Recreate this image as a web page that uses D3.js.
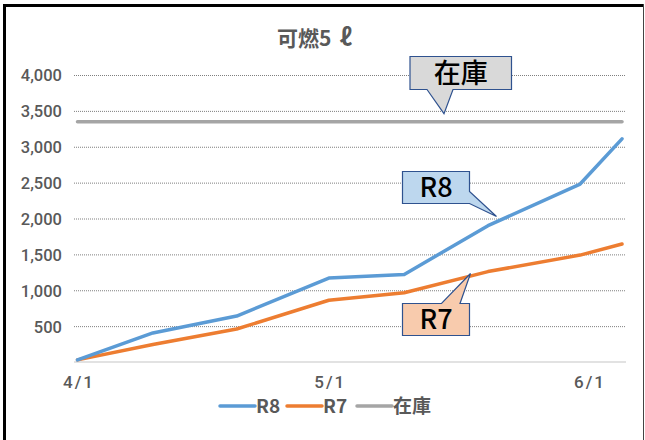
<!DOCTYPE html>
<html>
<head>
<meta charset="utf-8">
<script src="https://cdn.jsdelivr.net/npm/d3@7"></script>
<style>
  body { margin: 0; background: #fff; }
  svg { display: block; }
</style>
</head>
<body>
<script>
// Data (amounts per date)
var dates = ["2026-04-01", "2026-04-10", "2026-04-20", "2026-05-01",
             "2026-05-10", "2026-05-20", "2026-05-31", "2026-06-05"];
var r8 = [30, 405, 640, 1170, 1220, 1900, 2480, 3110];
var r7 = [30, 245, 460, 860, 965, 1260, 1490, 1645];
var stock = [3350, 3350, 3350, 3350, 3350, 3350, 3350, 3350];
var seriesNames = ["R8", "R7", "在庫"];
var yTicks = [500, 1000, 1500, 2000, 2500, 3000, 3500, 4000];
var xTicks = ["2026-04-01", "2026-05-01", "2026-06-01"];

var w = 645;
var h = 440;
//plot area edges (note: "top" is taken by window.top)
var plotLeft = 74, plotRight = 626, plotTop = 75, plotBottom = 362;
var colors = ["#5b9bd5", "#ed7d31", "#a5a5a5"];
var textGray = "#595959";

var parse = d3.timeParse("%Y-%m-%d");

//Svg is created with correct dimensions
var svg = d3.select("body")
  .append("svg")
  .attr("width", w)
  .attr("height", h);

//Frame around the chart, thick on left and top
svg.append("path")
  .attr("d", "M4.5,450 V5.5 H643")
  .attr("fill", "none")
  .attr("stroke", "#000")
  .attr("stroke-width", 3);
svg.append("line")
  .attr("x1", 643.5).attr("x2", 643.5)
  .attr("y1", 4).attr("y2", 450)
  .attr("stroke", "#444")
  .attr("stroke-width", 1);

//Scales, time for x and linear for y
var scaleX = d3.scaleTime()
  .domain([parse("2026-04-01"), parse("2026-06-01")])
  .range([77.5, 588.5]);

var scaleY = d3.scaleLinear()
  .domain([0, 4000])
  .range([plotBottom, plotTop]);

//Dotted gridlines with the y labels
var yAxis = svg.append("g")
  .attr("transform", "translate(" + plotLeft + ",0)")
  .call(d3.axisLeft(scaleY)
    .tickValues(yTicks)
    .tickFormat(d3.format(","))
    .tickSize(-(plotRight - plotLeft))
    .tickPadding(12));
yAxis.select(".domain").remove();
yAxis.selectAll("line")
  .attr("stroke", "#7f7f7f")
  .attr("stroke-dasharray", "1,1");
yAxis.selectAll("text")
  .attr("fill", textGray)
  .attr("dy", "0.36em")
  .style("font-family", "Roboto, 'Noto Sans', sans-serif")
  .style("font-weight", "500")
  .style("font-size", "16.5px");

//Baseline of the chart
svg.append("line")
  .attr("x1", plotLeft).attr("x2", plotRight)
  .attr("y1", scaleY(0)).attr("y2", scaleY(0))
  .attr("stroke", "#d9d9d9")
  .attr("stroke-width", 1.5);

//X axis with only labels
var xAxis = svg.append("g")
  .attr("transform", "translate(0," + plotBottom + ")")
  .call(d3.axisBottom(scaleX)
    .tickValues(xTicks.map(parse))
    .tickFormat(d3.timeFormat("%-m/%-d"))
    .tickSize(0)
    .tickPadding(14));
xAxis.select(".domain").remove();
xAxis.selectAll("text")
  .attr("fill", textGray)
  .attr("dx", 1)
  .style("font-family", "Roboto, 'Noto Sans', sans-serif")
  .style("font-weight", "500")
  .style("font-size", "17px")
  .style("letter-spacing", "2px");

//Lines for each series
var allSeries = [stock, r7, r8];
var allColors = [colors[2], colors[1], colors[0]];
var line = d3.line()
  .x(function(d, i) { return scaleX(parse(dates[i])); })
  .y(function(d) { return scaleY(d); });

svg.selectAll(".series")
  .data(allSeries)
  .enter()
  .append("path")
  .attr("class", "series")
  .attr("d", line)
  .attr("fill", "none")
  .attr("stroke", function(d, i) { return allColors[i]; })
  .attr("stroke-width", 3.5)
  .attr("stroke-linejoin", "round")
  .attr("stroke-linecap", "round");

//Title, the litre sign is set a bit apart and larger
var title = svg.append("text")
  .attr("x", 277)
  .attr("y", 46)
  .attr("fill", textGray)
  .style("font-family", "'Noto Sans CJK JP', sans-serif")
  .style("font-weight", "bold")
  .style("font-size", "21px");
title.append("tspan").text("可燃5");
title.append("tspan")
  .text("ℓ")
  .attr("dx", 8)
  .style("font-size", "24px");

//Callout boxes, pointer tip placed on a line
function callout(label, fill, box, pts) {
  svg.append("path")
    .attr("d", "M" + pts.map(function(p) { return p.join(","); }).join("L") + "Z")
    .attr("fill", fill)
    .attr("stroke", "#2f528f")
    .attr("stroke-width", 1.2);
  svg.append("text")
    .text(label)
    .attr("x", (box[0] + box[2]) / 2)
    .attr("y", (box[1] + box[3]) / 2 + 9.5)
    .attr("text-anchor", "middle")
    .attr("fill", "#000")
    .style("font-family", "'Noto Sans CJK JP', sans-serif")
    .style("font-weight", "500")
    .style("font-size", "27px");
}

// 在庫 callout points down to the stock line
var tipS = [444, scaleY(stock[0]) - 8];
callout(seriesNames[2], "#d9d9d9", [410, 56.5, 511.5, 89.5],
  [[410, 56.5], [511.5, 56.5], [511.5, 89.5], [453, 89.5], tipS, [427, 89.5], [410, 89.5]]);

// R8 callout, tip on R8 line near 5/20
var tip8 = [496.5, 216.5];
callout(seriesNames[0], "#bdd7ee", [402.5, 171.5, 469.5, 203.5],
  [[402.5, 171.5], [469.5, 171.5], [469.5, 191.5], tip8, [469.5, 203.5], [402.5, 203.5]]);

// R7 callout, tip on R7 line
var tip7 = [470.5, 273.5];
callout(seriesNames[1], "#f8cbad", [402.5, 303.5, 469.5, 335.5],
  [[402.5, 303.5], [441.5, 303.5], tip7, [460, 303.5], [469.5, 303.5], [469.5, 335.5], [402.5, 335.5]]);

//Legend
var legendX = [220, 287, 357];
var legend = svg.selectAll(".legend")
  .data(seriesNames)
  .enter()
  .append("g")
  .attr("class", "legend")
  .attr("transform", function(d, i) { return "translate(" + legendX[i] + ",406)"; });
legend.append("line")
  .attr("x1", 0).attr("x2", 35)
  .attr("stroke", function(d, i) { return colors[i]; })
  .attr("stroke-width", 3.5)
  .attr("stroke-linecap", "round");
legend.append("text")
  .text(function(d) { return d; })
  .attr("x", 36)
  .attr("y", 7)
  .attr("fill", textGray)
  .style("font-family", "'Noto Sans CJK JP', sans-serif")
  .style("font-weight", "bold")
  .style("font-size", "19px");
</script>
</body>
</html>
